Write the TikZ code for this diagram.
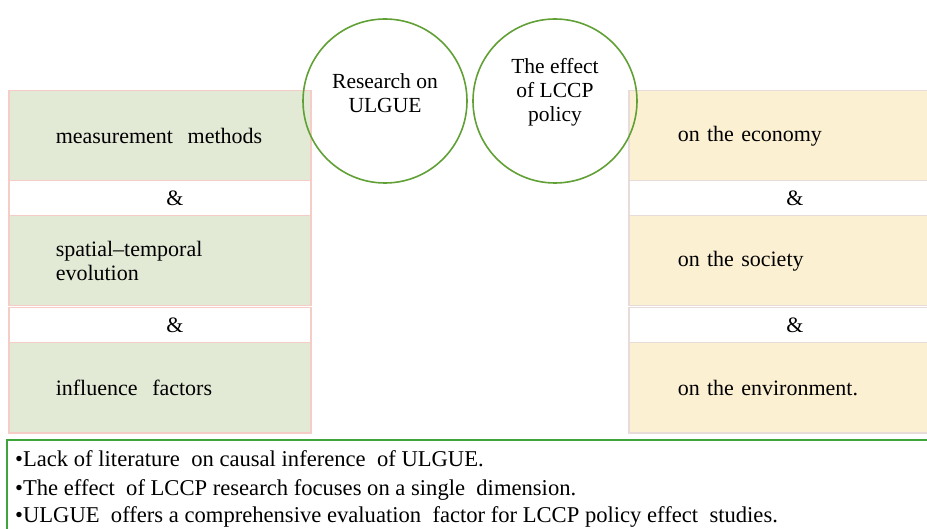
\documentclass[tikz,border=0pt]{standalone}
\usepackage{fontspec}
\setmainfont{Liberation Serif}
\usetikzlibrary{positioning}

\definecolor{leftfill}{RGB}{226,234,214}
\definecolor{leftline}{RGB}{245,205,198}
\definecolor{rightfill}{RGB}{252,240,211}
\definecolor{rightline}{RGB}{232,220,218}
\definecolor{ringgreen}{RGB}{96,160,52}
\definecolor{framegreen}{RGB}{60,165,60}

\begin{document}
\begin{tikzpicture}[
    x=1pt, y=-1pt, % one unit is one pixel of the layout, y runs down
    every node/.style={
        font=\fontsize{22}{24}\selectfont, % serif text, fairly large
        inner sep=0pt
    },
    leftbox/.style={
        draw=leftline, line width=1.5pt, fill=leftfill,
        minimum width=302pt, minimum height=90pt,
        text width=208pt, inner xsep=47pt, align=left, anchor=north west
    },
    rightbox/.style={
        draw=rightline, line width=1.5pt, fill=rightfill,
        minimum width=330pt, minimum height=90pt,
        text width=232pt, inner xsep=49pt, align=left, anchor=north west
    },
    leftamp/.style={
        draw=leftline, line width=1.5pt, fill=white,
        minimum width=302pt, minimum height=35pt, anchor=north west
    },
    rightamp/.style={
        draw=rightline, line width=1.5pt, fill=white,
        minimum width=330pt, minimum height=35pt, anchor=north west
    },
    ring/.style={
        draw=ringgreen, line width=1.6pt, circle, minimum size=164pt
    },
    ringtext/.style={align=center, font=\fontsize{21.5}{24}\selectfont},
    gapline/.style={anchor=base west, font=\fontsize{22.6}{24}\selectfont}
]
\useasboundingbox (0,0) rectangle (927,529);

% left column
\node[leftbox] (measure) at (8,90) {measurement\ \ methods};
\node[leftamp] (ampA) at (8,180) {};
\node[leftbox] (spatial) at (8,215) {spatial--temporal\\evolution};
\node[leftamp] (ampB) at (8,307) {};
\node[leftbox] (influence) at (8,342) {influence\ \ factors};
\node (ampAtext) at (175,198) {\&};
\node (ampBtext) at (175,325) {\&};

% right column
\node[rightbox] (economy) at (628,90) {on the economy};
\node[rightamp] (ampC) at (628,180) {};
\node[rightbox] (society) at (628,215) {on the society};
\node[rightamp] (ampD) at (628,307) {};
\node[rightbox] (environment) at (628,342) {on the environment.};
\node (ampCtext) at (795,198) {\&};
\node (ampDtext) at (795,325) {\&};

% the two circles
\node[ring] (research) at (385,101) {};
\node[ring] (effect) at (555,101) {};
\node[ringtext] (researchtext) at (385,93) {Research on\\ULGUE};
\node[ringtext] (effecttext) at (555,92) {The effect\\of LCCP\\policy};

% research gap
\draw[framegreen, line width=2pt] (7,440) rectangle (945,545);
\node[gapline] (gapA) at (15,466) {\textbullet Lack of literature\ \ on causal inference\ \ of ULGUE.};
\node[gapline] (gapB) at (15,495) {\textbullet The effect\ \ of LCCP research focuses on a single\ \ dimension.};
\node[gapline] (gapC) at (15,522) {\textbullet ULGUE\ \ offers a comprehensive evaluation\ \ factor for LCCP policy effect\ \ studies.};
\end{tikzpicture}
\end{document}
